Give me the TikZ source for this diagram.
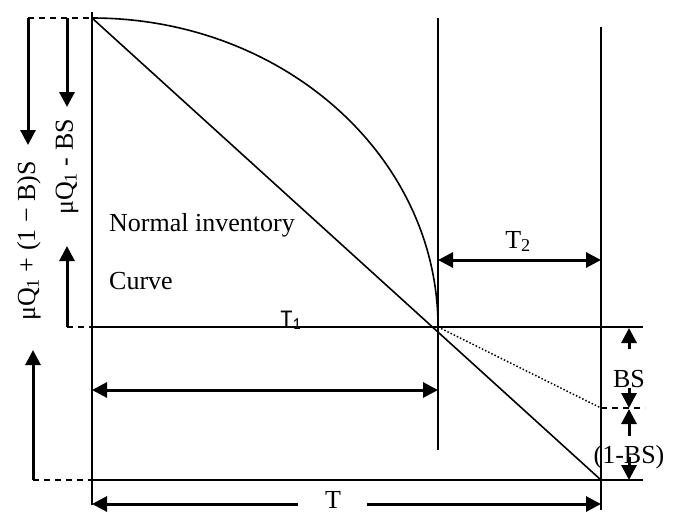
\documentclass[tikz,border=0pt]{standalone}
\usepackage{fontspec}
\setmainfont{Liberation Serif}
\newfontfamily\calib{Carlito}
\usetikzlibrary{arrows.meta}
\tikzset{
  ln/.style={line width=1.6pt},
  dsh/.style={line width=1.6pt, dash pattern=on 6pt off 5pt},
  dimarr/.style={line width=3pt, -{Triangle[length=15pt,width=15pt]}},
  dimboth/.style={line width=3pt, {Triangle[length=15pt,width=15pt]}-{Triangle[length=15pt,width=15pt]}},
  lbl/.style={inner sep=0pt, font=\fontsize{26}{30}\selectfont},
}
\begin{document}
\begin{tikzpicture}[x=1pt,y=-1pt]
\useasboundingbox (0,0) rectangle (687,515);
% key coordinates
\coordinate (top) at (92,18);
\coordinate (axb) at (92,505);
\coordinate (axt) at (92,12);
\coordinate (mid) at (438,327);
\coordinate (midt) at (438,18);
\coordinate (midb) at (438,450);
\coordinate (rt) at (601,27);
\coordinate (rb) at (601,510);
\coordinate (end) at (601,480);
\coordinate (hl) at (92,327);
\coordinate (hr) at (643,327);
\coordinate (bl) at (92,480);
\coordinate (br) at (643,480);
\coordinate (dp) at (601,408);
\coordinate (dpr) at (645,408);
% frame lines
\draw[ln] (axt) -- (axb);
\draw[ln] (midt) -- (midb);
\draw[ln] (rt) -- (rb);
\draw[ln] (hl) -- (hr);
\draw[ln] (bl) -- (br);
% diagonal and curve
\draw[ln] (top) -- (end);
\draw[ln] (top) .. controls (283,18) and (438,156) .. (mid);
\draw[line width=1.5pt, dotted] (mid) -- (dp);
\draw[dsh] (dp) -- (dpr);
% left dashed guides
\coordinate (a1t) at (28,18);
\coordinate (a1b) at (28,145);
\coordinate (a2t) at (67,18);
\coordinate (a2b) at (67,107);
\coordinate (a3b) at (67,327);
\coordinate (a3t) at (67,246);
\coordinate (a4b) at (33,480);
\coordinate (a4t) at (33,350);
\draw[dsh] (a1t) -- (top);
\draw[dsh] (a3b) -- (hl);
\draw[dsh] (a4b) -- (bl);
\draw[dimarr] (a1t) -- (a1b);
\draw[dimarr] (a2t) -- (a2b);
\draw[dimarr] (a3b) -- (a3t);
\draw[dimarr] (a4b) -- (a4t);
% T1, T2, T dimensions
\coordinate (t1l) at (92,390);
\coordinate (t1r) at (438,390);
\draw[dimboth] (t1l) -- (t1r);
\coordinate (t2l) at (438,260);
\coordinate (t2r) at (601,260);
\draw[dimboth] (t2l) -- (t2r);
\coordinate (tl) at (92,504);
\coordinate (tlm) at (298,504);
\coordinate (trm) at (367,504);
\coordinate (tr) at (601,504);
\draw[dimarr] (tlm) -- (tl);
\draw[dimarr] (trm) -- (tr);
% right BS arrows
\coordinate (b1s) at (629,349);
\coordinate (b1e) at (629,328);
\coordinate (b2s) at (629,388);
\coordinate (b2e) at (629,408);
\coordinate (b3s) at (629,436);
\coordinate (b3e) at (629,409);
\coordinate (b4s) at (629,457);
\coordinate (b4e) at (629,480);
\draw[dimarr] (b1s) -- (b1e);
\draw[dimarr] (b2s) -- (b2e);
\draw[dimarr] (b3s) -- (b3e);
\draw[dimarr] (b4s) -- (b4e);
% labels
\node[lbl, anchor=base west] (ni) at (109,231) {Normal inventory};
\node[lbl, anchor=base west] (cv) at (109,289) {Curve};
\node[lbl, anchor=base] (bs) at (629,387) {BS};
\node[lbl, anchor=base] (obs) at (629,463) {(1-BS)};
\node[lbl, anchor=base] (t2) at (518,248) {T\textsubscript{2}};
\node[lbl, anchor=base] (tt) at (333,508) {T};
\node[inner sep=0pt, anchor=base, font=\calib\fontsize{24}{28}\selectfont] (t1) at (291,326) {T\textsubscript{1}};
\node[lbl, rotate=90] (lq1) at (67,167) {μQ\textsubscript{1} - BS};
\node[lbl, rotate=90] (lq2) at (29,241) {μQ\textsubscript{1} + (1 − B)S};
\end{tikzpicture}
\end{document}
